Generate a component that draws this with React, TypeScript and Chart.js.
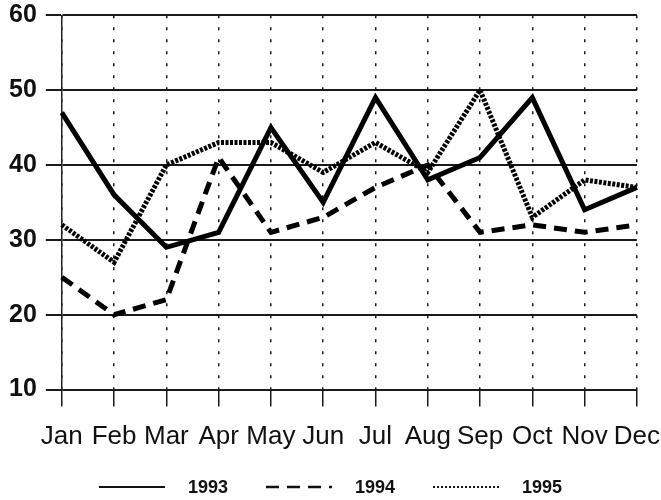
import { useEffect, useRef } from "react";
import { Chart, registerables } from "chart.js";
Chart.register(...registerables);

const months = ["Jan", "Feb", "Mar", "Apr", "May", "Jun", "Jul", "Aug", "Sep", "Oct", "Nov", "Dec"];
const s1993 = [47, 36, 29, 31, 45, 35, 49, 38, 41, 49, 34, 37];
const s1994 = [25, 20, 22, 41, 31, 33, 37, 40, 31, 32, 31, 32];
const s1995 = [32, 27, 40, 43, 43, 39, 43, 39, 50, 33, 38, 37];
const seriesLabels = ["1993", "1994", "1995"];
const yMin = 10;
const yMax = 60;
const yStep = 10;

const FONT = "'Liberation Sans', Arial, sans-serif";

const legendPlugin = {
  id: "customLegend",
  afterDraw(chart: any) {
    const ctx = chart.ctx as CanvasRenderingContext2D;
    const items = chart.data.datasets.map((d: any) => ({
      label: d.label,
      dash: d.legendDash as number[],
      width: d.legendWidth as number,
    }));
    const lineW = 66;
    const gapLT = 23;
    const gapTL = 38;
    ctx.save();
    ctx.font = `bold 18px ${FONT}`;
    const widths = items.map((it: any) => ctx.measureText(it.label).width);
    let total = 0;
    items.forEach((_: any, i: number) => {
      total += lineW + gapLT + widths[i];
      if (i < items.length - 1) total += gapTL;
    });
    let x = (chart.width - total) / 2;
    const y = 487;
    items.forEach((it: any, i: number) => {
      ctx.beginPath();
      ctx.setLineDash(it.dash);
      ctx.lineWidth = it.width;
      ctx.strokeStyle = "#111";
      ctx.moveTo(x, y);
      ctx.lineTo(x + lineW, y);
      ctx.stroke();
      x += lineW + gapLT;
      ctx.setLineDash([]);
      ctx.fillStyle = "#111";
      ctx.textBaseline = "middle";
      ctx.textAlign = "left";
      ctx.fillText(it.label, x, y + 1);
      x += widths[i] + gapTL;
    });
    ctx.restore();
  },
};

export default function App() {
  const ref = useRef<HTMLCanvasElement | null>(null);
  useEffect(() => {
    document.body.style.margin = "0";
    if (!ref.current) return;
    const chart = new Chart(ref.current, {
      type: "line",
      data: {
        labels: months,
        datasets: [
          {
            label: seriesLabels[0],
            data: s1993,
            borderColor: "#000",
            borderWidth: 5,
            pointRadius: 0,
            tension: 0,
            legendDash: [],
            legendWidth: 2,
          } as any,
          {
            label: seriesLabels[1],
            data: s1994,
            borderColor: "#000",
            borderWidth: 5,
            borderDash: [13, 8],
            pointRadius: 0,
            tension: 0,
            legendDash: [13, 8],
            legendWidth: 2.5,
          } as any,
          {
            label: seriesLabels[2],
            data: s1995,
            borderColor: "#000",
            borderWidth: 5,
            borderDash: [3, 1.5],
            pointRadius: 0,
            tension: 0,
            legendDash: [2, 2],
            legendWidth: 2,
          } as any,
        ],
      },
      options: {
        animation: false,
        responsive: true,
        maintainAspectRatio: false,
        layout: { padding: { left: 0, right: 0, top: 15, bottom: 33 } },
        plugins: { legend: { display: false }, tooltip: { enabled: false } },
        scales: {
          x: {
            type: "category",
            offset: false,
            grid: {
              color: "#1a1a1a",
              lineWidth: 1.5,
              tickBorderDash: [],
              tickLength: 17,
              tickColor: "#1a1a1a",
              tickWidth: 1.5,
            } as any,
            border: { display: false, dash: [3, 9] },
            ticks: {
              autoSkip: false,
              maxRotation: 0,
              padding: 1,
              color: "#111",
              font: { family: FONT, size: 26, weight: "normal", lineHeight: 2.25 },
            },
          },
          y: {
            min: yMin,
            max: yMax,
            grid: {
              color: "#1a1a1a",
              lineWidth: 2,
              tickLength: 16,
            },
            border: { display: true, color: "#222", width: 1.5 },
            ticks: {
              stepSize: yStep,
              padding: 9,
              color: "#111",
              font: { family: FONT, size: 25, weight: "bold", lineHeight: 0.5 },
            },
          },
        },
      },
      plugins: [legendPlugin],
    });
    return () => chart.destroy();
  }, []);
  return (
    <div style={{ width: 661, height: 500, position: "relative", background: "#fff" }}>
      <canvas ref={ref} />
    </div>
  );
}
